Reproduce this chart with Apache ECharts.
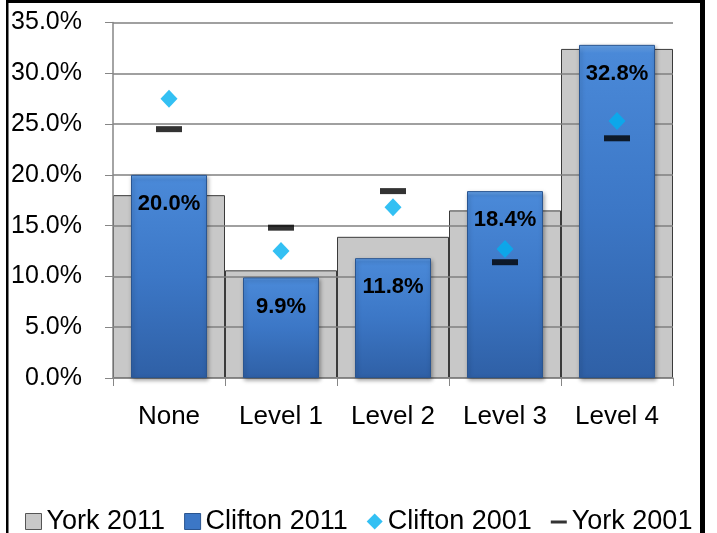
<!DOCTYPE html>
<html>
<head>
<meta charset="utf-8">
<script src="https://cdn.jsdelivr.net/npm/echarts@6/dist/echarts.min.js"></script>
<style>
html,body{margin:0;padding:0;background:#fff;}
#chart{width:717px;height:533px;}
</style>
</head>
<body>
<div id="chart"></div>
<script>
const categories = ['None', 'Level 1', 'Level 2', 'Level 3', 'Level 4'];
const york2011 = [18.0, 10.6, 13.9, 16.5, 32.4];
const clifton2011 = [20.0, 9.9, 11.8, 18.4, 32.8];
const clifton2001 = [27.5, 12.5, 16.8, 12.7, 25.3];
const york2001 = [24.5, 14.8, 18.4, 11.4, 23.6];
const yTicks = [0, 5, 10, 15, 20, 25, 30, 35];

const FONT = '"Liberation Sans", Arial, sans-serif';
const chart = echarts.init(document.getElementById('chart'), null, {renderer: 'canvas'});

const blueFill = new echarts.graphic.LinearGradient(0, 0, 0, 1, [
  {offset: 0, color: '#6AA6EC'},
  {offset: 0.025, color: '#4A89D8'},
  {offset: 0.5, color: '#3C77C6'},
  {offset: 1, color: '#2F60A6'}
]);

chart.setOption({
  animation: false,
  backgroundColor: '#fff',
  grid: {left: 113, right: 44, top: 22.5, bottom: 155, containLabel: false},
  legend: {
    left: 20, top: 503,
    itemWidth: 16, itemHeight: 16, itemGap: 19,
    textStyle: {fontFamily: FONT, fontSize: 27, color: '#000'},
    data: [
      {name: 'York 2011', icon: 'rect', itemStyle: {color: '#C8C8C8', borderColor: '#555', borderWidth: 1}},
      {name: 'Clifton 2011', icon: 'rect', itemStyle: {color: '#3C77C6', borderColor: '#2a5590', borderWidth: 1}},
      {name: 'Clifton 2001', icon: 'diamond'},
      {name: 'York 2001', icon: 'path://M0,0 L0,0 M0,7 L16,7 L16,10 L0,10 Z M16,16 L16,16'}
    ]
  },
  xAxis: [
    {
      type: 'category', data: categories, position: 'bottom',
      axisLine: {show: true, lineStyle: {color: '#868686', width: 1.5}},
      axisTick: {show: true, length: 8, lineStyle: {color: '#868686', width: 1}},
      axisLabel: {margin: 26, fontFamily: FONT, fontSize: 26, color: '#000'},
      splitLine: {show: false}
    },
    {
      type: 'category', data: categories, show: false
    }
  ],
  yAxis: {
    type: 'value', min: 0, max: 35, interval: 5,
    axisLine: {show: true, lineStyle: {color: '#868686', width: 1.5}},
    axisTick: {show: true, length: 8, lineStyle: {color: '#868686', width: 1}},
    axisLabel: {
      margin: 31, fontFamily: FONT, fontSize: 25, color: '#000',
      formatter: v => yTicks.includes(v) ? v.toFixed(1) + '%' : ''
    },
    splitLine: {show: true, lineStyle: {color: '#808080', width: 1.5}}
  },
  series: [
    {
      name: 'York 2011', type: 'bar', xAxisIndex: 0, data: york2011,
      barWidth: '100%', z: -1,
      itemStyle: {color: '#C8C8C8', borderColor: '#3a3a3a', borderWidth: 1}
    },
    {
      name: 'Clifton 2011', type: 'bar', xAxisIndex: 1, data: clifton2011,
      barWidth: 76, z: 3,
      itemStyle: {
        color: blueFill, borderColor: '#2a5590', borderWidth: 1,
        shadowColor: 'rgba(0,0,0,0.35)', shadowBlur: 4, shadowOffsetX: 1, shadowOffsetY: 2
      },
      label: {
        show: true, position: 'insideTop', distance: 18,
        fontFamily: FONT, fontSize: 22, fontWeight: 'bold', color: '#000',
        formatter: p => p.value.toFixed(1) + '%'
      }
    },
    {
      name: 'Clifton 2001', type: 'scatter', xAxisIndex: 0, data: clifton2001,
      symbol: 'diamond', symbolSize: [17, 18], z: 5,
      itemStyle: {color: '#00B0F0'}
    },
    {
      name: 'York 2001', type: 'scatter', xAxisIndex: 0, data: york2001,
      symbol: 'rect', symbolSize: [26, 6], z: 5,
      itemStyle: {color: '#000'}
    }
  ],
  graphic: [
    {type: 'rect', shape: {x: 6, y: 0, width: 2.5, height: 533}, style: {fill: '#000'}, z: 100},
    {type: 'rect', shape: {x: 6, y: 0, width: 699, height: 3}, style: {fill: '#000'}, z: 100},
    {type: 'rect', shape: {x: 700, y: 0, width: 5, height: 533}, style: {fill: '#000'}, z: 100}
  ]
});
</script>
</body>
</html>
